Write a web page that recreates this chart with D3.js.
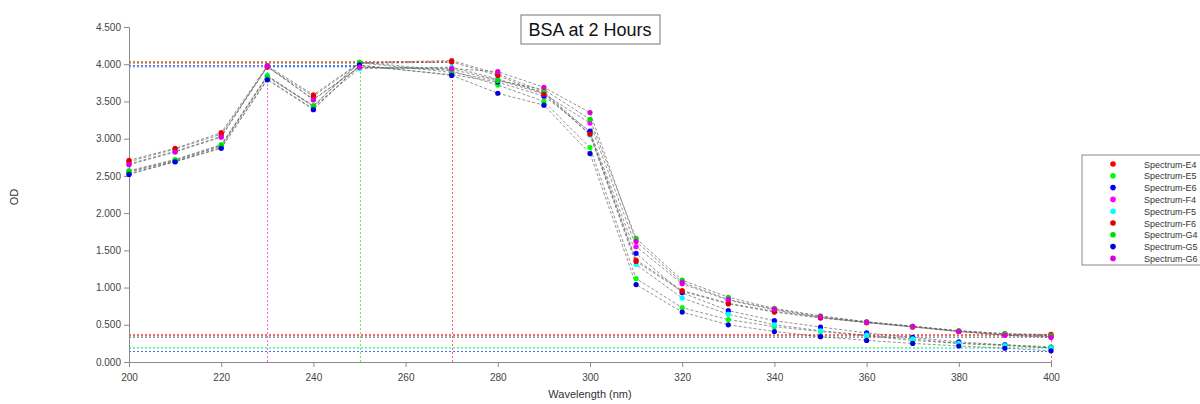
<!DOCTYPE html>
<html>
<head>
<meta charset="utf-8">
<script src="https://cdn.jsdelivr.net/npm/d3@7"></script>
<style>
  body { margin: 0; background: #fff; }
  svg { font-family: "Liberation Sans", Arial, sans-serif; }
</style>
</head>
<body>
<div id="chart"></div>
<script>
// wavelengths (nm) - no reading at 260
const wavelengths = [200, 210, 220, 230, 240, 250, 270, 280, 290, 300, 310, 320, 330, 340, 350, 360, 370, 380, 390, 400];

const seriesNames = ['Spectrum-E4', 'Spectrum-E5', 'Spectrum-E6', 'Spectrum-F4', 'Spectrum-F5', 'Spectrum-F6', 'Spectrum-G4', 'Spectrum-G5', 'Spectrum-G6'];
const seriesColors = ['#ff0000', '#00ff00', '#0000ff', '#ff00ff', '#00ffff', '#dd0000', '#00dd00', '#0000dd', '#dd00dd'];

const e4 = [2.71, 2.87, 3.08, 3.98, 3.59, 4.02, 4.05, 3.87, 3.63, 3.08, 1.37, 0.96, 0.79, 0.68, 0.60, 0.53, 0.48, 0.42, 0.38, 0.37];
const e5 = [2.57, 2.72, 2.92, 3.85, 3.44, 4.03, 3.91, 3.72, 3.50, 2.88, 1.12, 0.73, 0.57, 0.475, 0.41, 0.35, 0.29, 0.25, 0.23, 0.205];
const e6 = [2.53, 2.69, 2.88, 3.80, 3.40, 3.98, 3.86, 3.76, 3.57, 3.10, 1.46, 0.93, 0.69, 0.555, 0.47, 0.39, 0.33, 0.27, 0.23, 0.19];
const f4 = [2.66, 2.83, 3.03, 3.97, 3.53, 3.96, 3.93, 3.79, 3.60, 3.21, 1.55, 1.05, 0.83, 0.70, 0.60, 0.53, 0.47, 0.41, 0.36, 0.34];
const f5 = [2.55, 2.70, 2.90, 3.84, 3.43, 3.94, 3.96, 3.80, 3.62, 3.05, 1.31, 0.86, 0.64, 0.50, 0.42, 0.36, 0.31, 0.25, 0.22, 0.19];
const f6 = [2.69, 2.86, 3.06, 3.96, 3.57, 4.01, 4.03, 3.85, 3.60, 3.06, 1.35, 0.95, 0.78, 0.67, 0.59, 0.53, 0.47, 0.41, 0.37, 0.36];
const g4 = [2.56, 2.71, 2.91, 3.83, 3.44, 4.02, 3.89, 3.78, 3.66, 3.26, 1.66, 1.10, 0.87, 0.72, 0.62, 0.54, 0.48, 0.42, 0.38, 0.35];
const g5 = [2.52, 2.69, 2.87, 3.79, 3.39, 3.99, 3.85, 3.61, 3.45, 2.80, 1.04, 0.67, 0.50, 0.41, 0.34, 0.29, 0.25, 0.215, 0.185, 0.15];
const g6 = [2.65, 2.82, 3.02, 3.97, 3.52, 3.96, 3.94, 3.90, 3.69, 3.35, 1.62, 1.07, 0.84, 0.71, 0.61, 0.54, 0.48, 0.41, 0.36, 0.33];

const seriesValues = [e4, e5, e6, f4, f5, f6, g4, g5, g6];

// order in which the peak/min guide lines are painted (last one ends up on top)
const guideOrder = [2, 7, 4, 1, 6, 3, 8, 5, 0];

const xTicks = [200, 220, 240, 260, 280, 300, 320, 340, 360, 380, 400];
const yTicks = [0, 0.5, 1, 1.5, 2, 2.5, 3, 3.5, 4, 4.5];

const width = 1200;
const height = 404;
const margin = { top: 27, right: 149, bottom: 42, left: 129 };

const svg = d3.select('#chart')
  .append('svg')
  .attr('width', width)
  .attr('height', height);

const x = d3.scaleLinear().domain([200, 400]).range([margin.left, width - margin.right]);
const y = d3.scaleLinear().domain([0, 4.5]).range([height - margin.bottom, margin.top]);

// snap to pixel centres so overlapping guide lines do not blend
const px = (v) => Math.round(v) + 0.5;

const series = seriesNames.map((name, i) => ({
  name,
  color: seriesColors[i],
  guide: d3.interpolateRgb(seriesColors[i], '#ffffff')(0.4),
  points: wavelengths.map((w, j) => ({ w, v: seriesValues[i][j] }))
}));

// peak / minimum marker lines (dotted, lighter series colour)
// both drawn from the axis outwards so the dash patterns line up
const guides = svg.append('g')
  .attr('class', 'guides')
  .attr('shape-rendering', 'crispEdges');
guideOrder.forEach((idx) => {
  const s = series[idx];
  const maxP = s.points.reduce((a, b) => (b.v > a.v ? b : a));
  const minP = s.points.reduce((a, b) => (b.v < a.v ? b : a));
  [maxP, minP].forEach((p) => {
    guides.append('line')
      .attr('x1', x(200)).attr('x2', x(p.w))
      .attr('y1', px(y(p.v))).attr('y2', px(y(p.v)))
      .attr('stroke', s.guide)
      .attr('stroke-dasharray', '2,2');
    guides.append('line')
      .attr('x1', px(x(p.w))).attr('x2', px(x(p.w)))
      .attr('y1', y(0)).attr('y2', y(p.v))
      .attr('stroke', s.guide)
      .attr('stroke-dasharray', '2,2');
  });
});

// axes
const xAxis = svg.append('g')
  .attr('transform', `translate(0,${y(0)})`)
  .call(d3.axisBottom(x).tickValues(xTicks).tickFormat(d3.format('d')).tickSizeOuter(0).tickSize(5));

const yAxis = svg.append('g')
  .attr('transform', `translate(${x(200)},0)`)
  .call(d3.axisLeft(y).tickValues(yTicks).tickFormat(d3.format('.3f')).tickSizeOuter(0).tickSize(5));

[xAxis, yAxis].forEach((ax) => {
  ax.select('.domain').attr('stroke', '#8a8a8a');
  ax.selectAll('.tick line').attr('stroke', '#8a8a8a');
  ax.selectAll('.tick text').attr('fill', '#444').style('font-size', '10px');
});
xAxis.selectAll('.tick text').attr('dy', '1.1em');

// connecting lines
const line = d3.line().x((d) => x(d.w)).y((d) => y(d.v));
const lineGroup = svg.append('g').attr('class', 'lines');
series.forEach((s) => {
  lineGroup.append('path')
    .datum(s.points)
    .attr('d', line)
    .attr('fill', 'none')
    .attr('stroke', '#555')
    .attr('stroke-opacity', 0.7)
    .attr('stroke-width', 0.9)
    .attr('stroke-dasharray', '3,2');
});

// points
const pointGroup = svg.append('g').attr('class', 'points');
series.forEach((s) => {
  pointGroup.selectAll(null)
    .data(s.points)
    .enter()
    .append('circle')
    .attr('cx', (d) => x(d.w))
    .attr('cy', (d) => y(d.v))
    .attr('r', 2.6)
    .attr('fill', s.color);
});

// title
const titleG = svg.append('g');
titleG.append('rect')
  .attr('x', 521).attr('y', 15)
  .attr('width', 139).attr('height', 29)
  .attr('fill', '#fff')
  .attr('stroke', '#777');
titleG.append('text')
  .attr('x', 590).attr('y', 36)
  .attr('text-anchor', 'middle')
  .style('font-size', '18px')
  .attr('fill', '#111')
  .text('BSA at 2 Hours');

// axis titles
svg.append('text')
  .attr('x', 590).attr('y', 398)
  .attr('text-anchor', 'middle')
  .style('font-size', '11px')
  .attr('fill', '#333')
  .text('Wavelength (nm)');

svg.append('text')
  .attr('transform', 'translate(18,197) rotate(-90)')
  .attr('text-anchor', 'middle')
  .style('font-size', '11px')
  .attr('fill', '#333')
  .text('OD');

// legend
const legend = svg.append('g').attr('transform', 'translate(1082,155)');
legend.append('rect')
  .attr('width', 130).attr('height', 110)
  .attr('fill', '#fff')
  .attr('stroke', '#888');
series.forEach((s, i) => {
  const row = legend.append('g').attr('transform', `translate(0,${9 + i * 11.8})`);
  row.append('circle').attr('cx', 31).attr('cy', 0).attr('r', 2.8).attr('fill', s.color);
  row.append('text')
    .attr('x', 62).attr('y', 3.5)
    .style('font-size', '9px')
    .attr('fill', '#333')
    .text(s.name);
});
</script>
</body>
</html>
